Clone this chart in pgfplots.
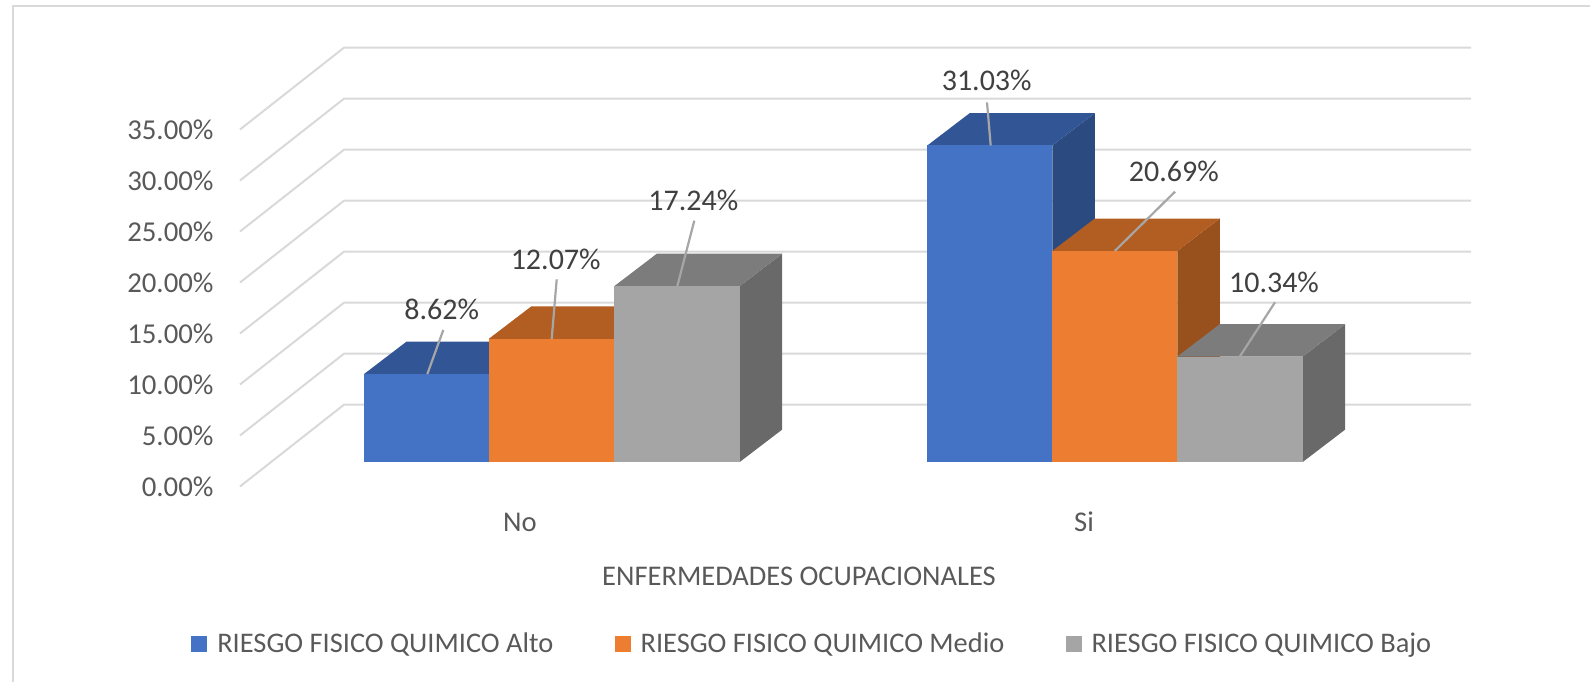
\documentclass[border=0pt]{standalone}
\usepackage{pgfplots}
\pgfplotsset{compat=1.18}
\usepackage{fontspec}
\setmainfont{Carlito}
\definecolor{txt}{HTML}{595959}
\definecolor{lab}{HTML}{404040}
\definecolor{gridc}{HTML}{D9D9D9}
\definecolor{leader}{HTML}{A6A6A6}
\definecolor{bF}{HTML}{4472C4}\definecolor{bT}{HTML}{325695}\definecolor{bS}{HTML}{2A4A80}
\definecolor{oF}{HTML}{ED7D31}\definecolor{oT}{HTML}{B25D22}\definecolor{oS}{HTML}{98501C}
\definecolor{gF}{HTML}{A5A5A5}\definecolor{gT}{HTML}{7C7C7C}\definecolor{gS}{HTML}{696969}
\pgfplotsset{
  base/.style={scale only axis,width=795pt,height=341pt,at={(0,0)},anchor=south west,
    xmin=0,xmax=1590,clip=false,axis line style={draw=none},tick style={draw=none},
    /pgf/number format/assume math mode=true},
}
% side and top faces (depth: 42.5 px across, 3.18 units up), then the front face
\newcommand{\barfaces}[6]{%
  \pgfmathsetmacro{\xa}{#1+42.5}\pgfmathsetmacro{\xb}{#2+42.5}\pgfmathsetmacro{\yt}{#3+3.18}%
  \addplot[fill=#5,draw=none,forget plot] coordinates {(#2,0) (\xb,3.18) (\xb,\yt) (#2,#3)};
  \addplot[fill=#4,draw=none,forget plot] coordinates {(#1,#3) (\xa,\yt) (\xb,\yt) (#2,#3)};
}
\newcommand{\lead}[4]{\addplot[leader,line width=1.1pt,forget plot] coordinates {(#1,#2) (#3,#4)};}
\newcommand{\vlab}[3]{\node[text=lab,font=\fontsize{15}{17}\selectfont,anchor=center] at (axis cs:#1,#2) {#3};}
\begin{document}
\begin{tikzpicture}
\path[use as bounding box] (0,0) rectangle (795pt,341pt);
% value scale of the walls
\begin{axis}[base,ymin=-19.169,ymax=47.694,ytick={0,5,...,35},xtick=\empty,
  yticklabel={\pgfmathprintnumber[fixed,fixed zerofill,precision=2]{\tick}\%},
  yticklabel style={anchor=east,xshift=110.3pt,yshift=-0.3pt,text=txt,font=\fontsize{14.4}{16}\selectfont}]
\end{axis}
\begin{axis}[base,ymin=-21.569,ymax=45.294,ytick=\empty,
  xtick={520,1084},xticklabels={No,Si},
  xticklabel style={anchor=center,yshift=80pt,text=txt,font=\fontsize{14.3}{16}\selectfont},
  xlabel={ENFERMEDADES OCUPACIONALES},
  xlabel style={at={(axis description cs:0.5025,0.155)},anchor=center,text=txt,font=\fontsize{14.25}{16}\selectfont},
  legend columns=3,
  legend style={at={(axis description cs:0.5115,0.0555)},anchor=center,draw=none,fill=none,
    font=\fontsize{14.2}{16}\selectfont,text=txt,inner sep=0pt,
    /tikz/every even column/.append style={column sep=28.6pt},
    /tikz/every odd column/.append style={column sep=3pt}},
  legend image code/.code={\fill[#1] (0pt,-4pt) rectangle (8pt,4pt);},
]
% frame
\addplot[gridc,line width=1.1pt,forget plot] coordinates {(13,-21.569) (13,44.7) (1590,44.7)};
% gridlines
\addplot[gridc,line width=1pt,forget plot] coordinates {(240,-2.4) (344,5.62) (1471,5.62)};
\addplot[gridc,line width=1pt,forget plot] coordinates {(240,2.6) (344,10.62) (1471,10.62)};
\addplot[gridc,line width=1pt,forget plot] coordinates {(240,7.6) (344,15.62) (1471,15.62)};
\addplot[gridc,line width=1pt,forget plot] coordinates {(240,12.6) (344,20.62) (1471,20.62)};
\addplot[gridc,line width=1pt,forget plot] coordinates {(240,17.6) (344,25.62) (1471,25.62)};
\addplot[gridc,line width=1pt,forget plot] coordinates {(240,22.6) (344,30.62) (1471,30.62)};
\addplot[gridc,line width=1pt,forget plot] coordinates {(240,27.6) (344,35.62) (1471,35.62)};
\addplot[gridc,line width=1pt,forget plot] coordinates {(240,32.6) (344,40.62) (1471,40.62)};
% No
\barfaces{364}{488.7}{8.62}{bT}{bS}{}
\addplot[fill=bF,draw=none] coordinates {(364,0) (364,8.62) (488.7,8.62) (488.7,0)};
\addlegendentry{RIESGO FISICO QUIMICO Alto}
\barfaces{488.7}{614.3}{12.07}{oT}{oS}{}
\addplot[fill=oF,draw=none] coordinates {(488.7,0) (488.7,12.07) (614.3,12.07) (614.3,0)};
\addlegendentry{RIESGO FISICO QUIMICO Medio}
\barfaces{614.3}{739.7}{17.24}{gT}{gS}{}
\addplot[fill=gF,draw=none] coordinates {(614.3,0) (614.3,17.24) (739.7,17.24) (739.7,0)};
\addlegendentry{RIESGO FISICO QUIMICO Bajo}
% Si
\barfaces{927.3}{1052.3}{31.03}{bT}{bS}{}
\addplot[fill=bF,draw=none,forget plot] coordinates {(927.3,0) (927.3,31.03) (1052.3,31.03) (1052.3,0)};
\barfaces{1052.3}{1177.3}{20.69}{oT}{oS}{}
\addplot[fill=oF,draw=none,forget plot] coordinates {(1052.3,0) (1052.3,20.69) (1177.3,20.69) (1177.3,0)};
\barfaces{1177.3}{1302.7}{10.34}{gT}{gS}{}
\addplot[fill=gF,draw=none,forget plot] coordinates {(1177.3,0) (1177.3,10.34) (1302.7,10.34) (1302.7,0)};
% leader lines
\lead{427.3}{8.62}{443.3}{12.94}
\lead{551.7}{12.07}{556.7}{17.91}
\lead{677.3}{17.24}{694.3}{23.66}
\lead{990.7}{31.03}{987}{35.26}
\lead{1114.8}{20.69}{1175}{26.5}
\lead{1239.8}{10.34}{1275}{15.66}
% data labels
\vlab{441.7}{15.0}{8.62\%}
\vlab{555.7}{19.9}{12.07\%}
\vlab{693.3}{25.65}{17.24\%}
\vlab{986.7}{37.38}{31.03\%}
\vlab{1173.8}{28.46}{20.69\%}
\vlab{1274}{17.65}{10.34\%}
\end{axis}
\end{tikzpicture}
\end{document}
